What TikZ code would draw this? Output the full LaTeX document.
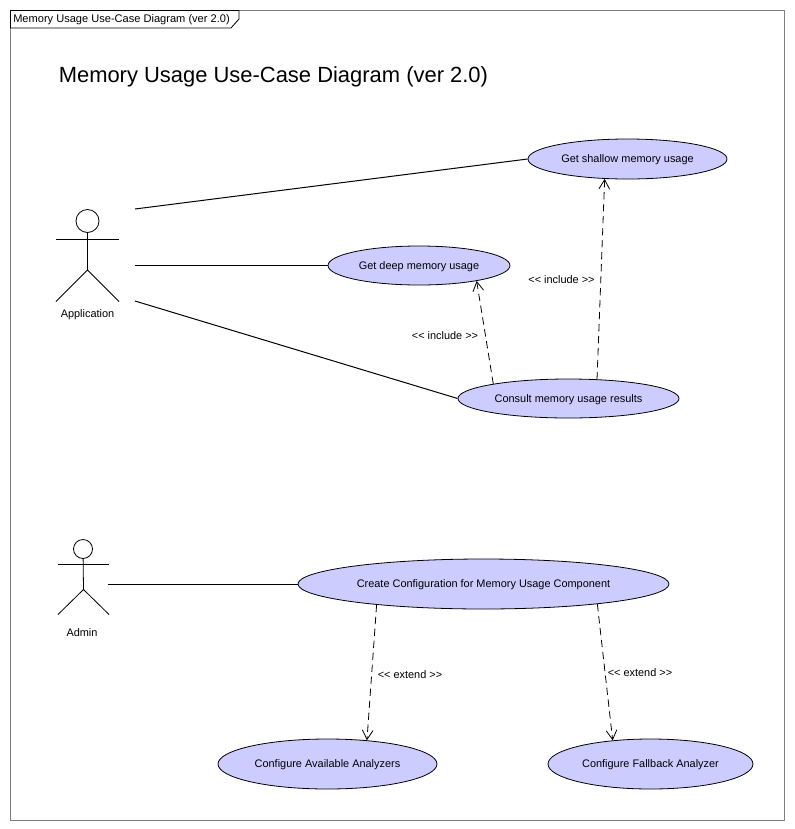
\documentclass[tikz,border=0pt]{standalone}
\usepackage{fontspec}
\setmainfont{Liberation Sans}
\usetikzlibrary{arrows.meta, shapes.geometric}
\definecolor{caseBlue}{RGB}{204, 204, 255}
\definecolor{frameGray}{RGB}{128, 128, 128}
\tikzset{
  usecase/.style 2 args={draw, ellipse, fill=caseBlue, inner sep=0pt, line width=0.6pt, minimum width=#1*0.75pt, minimum height=#2*0.75pt, text height=7.5pt, text depth=1.7pt, font=\fontsize{8.2pt}{10pt}\selectfont},
  tag/.style={inner sep=0pt, font=\fontsize{8.2pt}{10pt}\selectfont},
  link/.style={line width=0.75pt},
  dep/.style={line width=0.6pt, dash pattern=on 5.5pt off 3.5pt, -{Straight Barb[length=7pt,width=8pt,line width=0.6pt]}},
}
\begin{document}
\begin{tikzpicture}[x=0.75pt, y=-0.75pt]
  \useasboundingbox (0,0) rectangle (794,829);
  \fill[white] (0,0) rectangle (794,829);
  \draw[frameGray, line width=0.75pt] (10.5,10.5) rectangle (784,820);
  \draw[line width=0.6pt, fill=white] (10.5,10.5) -- (239,10.5) -- (239,19) -- (231,28) -- (10.5,28) -- cycle;
  \node[anchor=west, inner sep=0pt, font=\fontsize{8.3pt}{10pt}\selectfont] (frameTitle) at (13,20) {Memory Usage Use-Case Diagram (ver 2.0)};
  \node[anchor=west, inner sep=0pt, font=\fontsize{16.46pt}{20pt}\selectfont] (diagramTitle) at (58.5,76.5) {Memory Usage Use-Case Diagram (ver 2.0)};

  % use cases
  \node[usecase={199}{40}] (shallow) at (627.5,159) {Get shallow memory usage};
  \node[usecase={182}{39}] (deep) at (419,265.5) {Get deep memory usage};
  \node[usecase={221}{39}] (consult) at (568.5,398.5) {Consult memory usage results};
  \node[usecase={371}{50}] (create) at (483.5,584) {Create Configuration for Memory Usage Component};
  \node[usecase={219}{50}] (available) at (327.5,764) {Configure Available Analyzers};
  \node[usecase={205}{50}] (fallback) at (650.5,764) {Configure Fallback Analyzer};

  % application actor
  \node[draw, circle, inner sep=0pt, minimum size=23*0.75pt, line width=0.6pt] (appHead) at (87.5,221) {};
  \coordinate (appHip) at (87.5,270);
  \draw[line width=0.6pt] (appHead) -- (appHip);
  \draw[line width=0.6pt] (56,239) -- (119,239);
  \draw[line width=0.6pt] (56,301.5) -- (appHip) -- (119,301.5);
  \node[tag] (appName) at (87.5,315) {Application};

  % admin actor
  \node[draw, circle, inner sep=0pt, minimum size=19*0.75pt, line width=0.6pt] (adminHead) at (83,549) {};
  \coordinate (adminHip) at (83.5,589.5);
  \draw[line width=0.6pt] (adminHead) -- (adminHip);
  \draw[line width=0.6pt] (58,564) -- (109,564);
  \draw[line width=0.6pt] (58,614.5) -- (adminHip) -- (109,614.5);
  \node[tag] (adminName) at (82,632.5) {Admin};

  % associations
  \coordinate (appOut1) at (135,209);
  \coordinate (appOut2) at (135,265.5);
  \coordinate (appOut3) at (135,301);
  \coordinate (adminOut) at (108,584);
  \draw[link] (appOut1) -- (shallow.west);
  \draw[link] (appOut2) -- (deep.west);
  \draw[link] (appOut3) -- (consult.west);
  \draw[link] (adminOut) -- (create.west);

  % dependencies
  \draw[dep] (consult.169.6) -- (deep.-15.4);
  \draw[dep] (consult.34) -- (shallow.221);
  \draw[dep] (create.191.85) -- (available.31);
  \draw[dep] (create.-10.85) -- (fallback.148);
  \node[tag] (incDeep) at (445,336) {{<}{<} include {>}{>}};
  \node[tag] (incShallow) at (561.5,280) {{<}{<} include {>}{>}};
  \node[tag] (extAvailable) at (410,675) {{<}{<} extend {>}{>}};
  \node[tag] (extFallback) at (640,673) {{<}{<} extend {>}{>}};
\end{tikzpicture}
\end{document}
